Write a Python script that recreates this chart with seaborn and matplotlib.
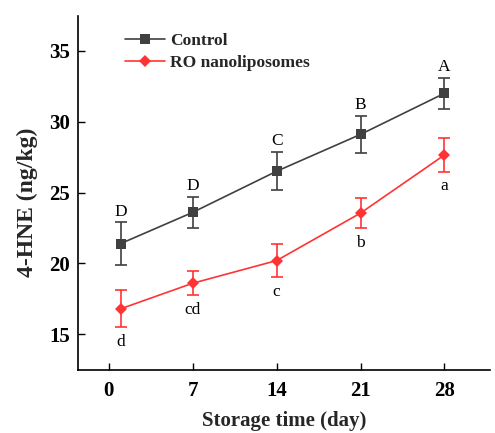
import matplotlib
matplotlib.use("Agg")
import matplotlib.pyplot as plt
import seaborn as sns
import pandas as pd

days = [1, 7, 14, 21, 28]
control_mean = [21.4, 23.6, 26.5, 29.1, 32.0]
control_err = [1.5, 1.1, 1.35, 1.3, 1.1]
ro_mean = [16.8, 18.6, 20.2, 23.55, 27.65]
ro_err = [1.3, 0.85, 1.15, 1.05, 1.17]
control_letters = ["D", "D", "C", "B", "A"]
ro_letters = ["d", "cd", "c", "b", "a"]
series_names = ["Control", "RO nanoliposomes"]
x_ticks = [0, 7, 14, 21, 28]
y_ticks = [15, 20, 25, 30, 35]

sns.set_theme(style="ticks")
plt.rcParams["font.family"] = ["Liberation Serif", "DejaVu Serif"]

df = pd.DataFrame({
    "day": days * 2,
    "value": control_mean + ro_mean,
    "group": [series_names[0]] * len(days) + [series_names[1]] * len(days),
})

colors = {series_names[0]: "#404040", series_names[1]: "#ff3333"}
markers = {series_names[0]: "s", series_names[1]: "D"}

fig = plt.figure(figsize=(4.95, 4.33), dpi=100)
ax = fig.add_axes([0.158, 0.1455, 0.832, 0.8175])

sns.lineplot(data=df, x="day", y="value", hue="group", style="group",
             palette=colors, markers=markers, dashes=False, markersize=6.5,
             markeredgewidth=0, linewidth=1.2, ax=ax)

for mean, err, name in [(control_mean, control_err, series_names[0]),
                        (ro_mean, ro_err, series_names[1])]:
    ax.errorbar(days, mean, yerr=err, fmt="none", ecolor=colors[name],
                elinewidth=1.2, capsize=4, capthick=1.2, zorder=1)

for d, m, e, t in zip(days, control_mean, control_err, control_letters):
    ax.annotate(t, (d, m + e), xytext=(0, 2), textcoords="offset points",
                ha="center", va="bottom", fontsize=12.5, color="black")
for d, m, e, t in zip(days, ro_mean, ro_err, ro_letters):
    ax.annotate(t, (d, m - e), xytext=(0, -5), textcoords="offset points",
                ha="center", va="top", fontsize=12.5, color="black")

ax.set_xlim(-2.55, 31.8)
ax.set_ylim(12.48, 37.45)
ax.set_xticks(x_ticks)
ax.set_yticks(y_ticks)
ax.tick_params(direction="in", length=5, width=1.0, labelsize=15, colors="black")
for lab in ax.get_xticklabels() + ax.get_yticklabels():
    lab.set_fontweight("bold")
ax.tick_params(axis="x", pad=8)
ax.tick_params(axis="y", pad=6)

for side in ["top", "right"]:
    ax.spines[side].set_visible(False)
for side in ["left", "bottom"]:
    ax.spines[side].set_linewidth(1.2)
    ax.spines[side].set_color("black")

ax.set_xlabel("Storage time (day)", fontsize=15, fontweight="bold", labelpad=7)
ax.set_ylabel("4-HNE (ng/kg)", fontsize=17, fontweight="bold", labelpad=8)
ax.yaxis.label.set_y(0.475)

leg = ax.legend(loc="upper left", bbox_to_anchor=(0.097, 0.973), frameon=False,
                prop={"weight": "bold", "size": 12.5}, handlelength=2.3,
                handletextpad=0.3, labelspacing=0.35, borderaxespad=0)

fig.savefig("out.png", dpi=100)
